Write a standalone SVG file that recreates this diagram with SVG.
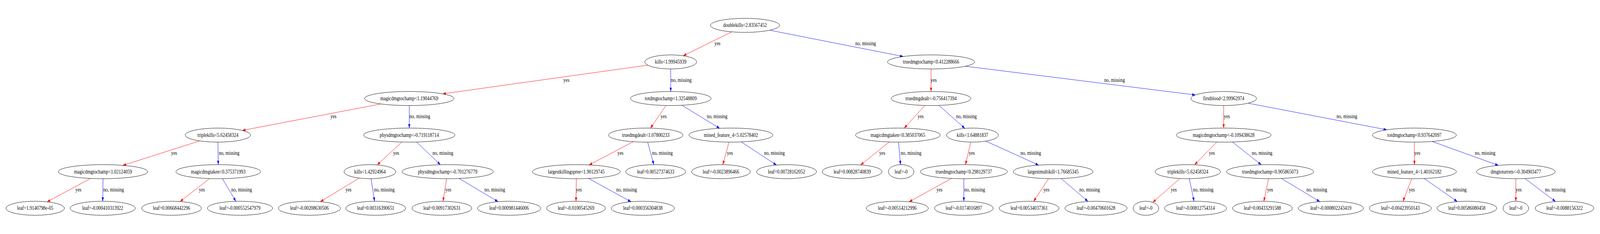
<svg xmlns="http://www.w3.org/2000/svg" width="5000" height="600" viewBox="0 0 5000 600" preserveAspectRatio="none">
<style>
svg:root{width:100vw;height:100vh;display:block}
.n ellipse{fill:none;stroke:#000;stroke-width:1}
.n text,.lb text{font-family:"Liberation Serif","Times New Roman",serif;font-size:14px;text-anchor:middle;fill:#000}
.y{stroke:#FF0000;stroke-width:1;fill:none;marker-end:url(#ar)}
.o{stroke:#0000FF;stroke-width:1;fill:none;marker-end:url(#ab)}
</style>
<defs>
<marker id="ar" markerUnits="userSpaceOnUse" markerWidth="10" markerHeight="7" refX="10" refY="3.5" orient="auto"><path d="M0,0L10,3.5L0,7z" fill="#FF0000"/></marker>
<marker id="ab" markerUnits="userSpaceOnUse" markerWidth="10" markerHeight="7" refX="10" refY="3.5" orient="auto"><path d="M0,0L10,3.5L0,7z" fill="#0000FF"/></marker>
</defs>
<rect width="5000" height="600" fill="#fff"/>
<g id="connectors">
<line class="y" x1="2286.8" y1="81.6" x2="2135" y2="143"/>
<line class="o" x1="2405.5" y1="77.5" x2="2822.8" y2="144.9"/>
<line class="y" x1="2024" y1="167.1" x2="1383.3" y2="240.6"/>
<line class="o" x1="2096" y1="176.8" x2="2096" y2="234.6"/>
<line class="y" x1="1190.3" y1="266.5" x2="757.2" y2="334.4"/>
<line class="o" x1="1279" y1="270.6" x2="1279" y2="328.4"/>
<line class="y" x1="623.9" y1="361.3" x2="383.8" y2="424.1"/>
<line class="o" x1="681" y1="364.4" x2="682" y2="422.2"/>
<line class="y" x1="282.9" y1="457.5" x2="147.2" y2="517.6"/>
<line class="o" x1="322" y1="458.2" x2="321" y2="516"/>
<line class="y" x1="654.6" y1="457.8" x2="562.8" y2="516.8"/>
<line class="o" x1="695" y1="458.1" x2="737.1" y2="516.1"/>
<line class="y" x1="1255.7" y1="364.2" x2="1178.7" y2="422.9"/>
<line class="o" x1="1301.7" y1="364.2" x2="1376.3" y2="422.4"/>
<line class="y" x1="1122.9" y1="456.6" x2="1001" y2="517.1"/>
<line class="o" x1="1159.5" y1="458.2" x2="1170.5" y2="516"/>
<line class="y" x1="1395.5" y1="458.2" x2="1384.5" y2="516"/>
<line class="o" x1="1434.7" y1="457.6" x2="1556.5" y2="517.1"/>
<line class="y" x1="2081.1" y1="270.5" x2="2032.8" y2="328.6"/>
<line class="o" x1="2130.7" y1="269.9" x2="2249.2" y2="329.1"/>
<line class="y" x1="1978.8" y1="363.3" x2="1840.8" y2="423"/>
<line class="o" x1="2023.9" y1="364.4" x2="2043.1" y2="422.2"/>
<line class="y" x1="2278.1" y1="364.4" x2="2258.9" y2="422.2"/>
<line class="o" x1="2316.4" y1="363.8" x2="2426.6" y2="423.3"/>
<line class="y" x1="1801" y1="458.2" x2="1800" y2="516"/>
<line class="o" x1="1839.3" y1="457.5" x2="1972" y2="517.3"/>
<line class="y" x1="2909.5" y1="176.8" x2="2909.5" y2="234.6"/>
<line class="o" x1="3016.5" y1="169.8" x2="3735.5" y2="243.5"/>
<line class="y" x1="2890.3" y1="270.4" x2="2825.7" y2="328.6"/>
<line class="o" x1="2934.3" y1="270.3" x2="3015.3" y2="329.2"/>
<line class="y" x1="2779.1" y1="364" x2="2689.3" y2="422.9"/>
<line class="o" x1="2807.9" y1="364.4" x2="2814.1" y2="422.2"/>
<line class="y" x1="3033.8" y1="364.4" x2="3017.2" y2="422.2"/>
<line class="o" x1="3080.5" y1="361.9" x2="3245.9" y2="423.4"/>
<line class="y" x1="2973.7" y1="457.5" x2="2840.9" y2="517.4"/>
<line class="o" x1="3012" y1="458.2" x2="3012" y2="516"/>
<line class="y" x1="3276.7" y1="458.1" x2="3230.2" y2="516.2"/>
<line class="o" x1="3316.2" y1="457.8" x2="3400.1" y2="516.6"/>
<line class="y" x1="3824" y1="270.6" x2="3824" y2="328.4"/>
<line class="o" x1="3900.3" y1="264.6" x2="4333.8" y2="332.8"/>
<line class="y" x1="3802.7" y1="364.2" x2="3733" y2="422.6"/>
<line class="o" x1="3851.3" y1="364.1" x2="3941.7" y2="422.6"/>
<line class="y" x1="4420" y1="364.4" x2="4420" y2="422.2"/>
<line class="o" x1="4475.2" y1="362.7" x2="4682.5" y2="424.1"/>
<line class="y" x1="3687.6" y1="457.7" x2="3602.3" y2="518.8"/>
<line class="o" x1="3716.6" y1="458.2" x2="3731.4" y2="516"/>
<line class="y" x1="3964.4" y1="458.2" x2="3949.6" y2="516"/>
<line class="o" x1="4004.2" y1="457.6" x2="4124.7" y2="517.1"/>
<line class="y" x1="4411.6" y1="458.2" x2="4384.4" y2="516.1"/>
<line class="o" x1="4450.6" y1="457.7" x2="4554.2" y2="516.9"/>
<line class="y" x1="4737" y1="458.2" x2="4737" y2="516"/>
<line class="o" x1="4765.4" y1="457.7" x2="4861.2" y2="516.8"/>
<g class="lb">
<text x="2242" y="115.9">yes</text>
<text x="2705" y="115.9">no, missing</text>
<text x="1770" y="209.7">yes</text>
<text x="2129" y="209.7">no, missing</text>
<text x="2918" y="209.7">yes</text>
<text x="3483" y="209.7">no, missing</text>
<text x="1042" y="303.5">yes</text>
<text x="1312" y="303.5">no, missing</text>
<text x="2074" y="303.5">yes</text>
<text x="2241" y="303.5">no, missing</text>
<text x="2877" y="303.5">yes</text>
<text x="3020" y="303.5">no, missing</text>
<text x="3834" y="303.5">yes</text>
<text x="4209" y="303.5">no, missing</text>
<text x="544" y="397.3">yes</text>
<text x="716" y="397.3">no, missing</text>
<text x="1238" y="397.3">yes</text>
<text x="1384" y="397.3">no, missing</text>
<text x="1939" y="397.3">yes</text>
<text x="2070" y="397.3">no, missing</text>
<text x="2281" y="397.3">yes</text>
<text x="2420" y="397.3">no, missing</text>
<text x="2757" y="397.3">yes</text>
<text x="2847" y="397.3">no, missing</text>
<text x="3037" y="397.3">yes</text>
<text x="3221" y="397.3">no, missing</text>
<text x="3787" y="397.3">yes</text>
<text x="3944" y="397.3">no, missing</text>
<text x="4429" y="397.3">yes</text>
<text x="4641" y="397.3">no, missing</text>
<text x="245" y="491.1">yes</text>
<text x="355" y="491.1">no, missing</text>
<text x="631" y="491.1">yes</text>
<text x="755" y="491.1">no, missing</text>
<text x="1089" y="491.1">yes</text>
<text x="1201" y="491.1">no, missing</text>
<text x="1401" y="491.1">yes</text>
<text x="1546" y="491.1">no, missing</text>
<text x="1809" y="491.1">yes</text>
<text x="1958" y="491.1">no, missing</text>
<text x="2936" y="491.1">yes</text>
<text x="3046" y="491.1">no, missing</text>
<text x="3270" y="491.1">yes</text>
<text x="3405" y="491.1">no, missing</text>
<text x="3668" y="491.1">yes</text>
<text x="3760" y="491.1">no, missing</text>
<text x="3969" y="491.1">yes</text>
<text x="4115" y="491.1">no, missing</text>
<text x="4412" y="491.1">yes</text>
<text x="4551" y="491.1">no, missing</text>
<text x="4746" y="491.1">yes</text>
<text x="4860" y="491.1">no, missing</text>
</g>
</g>
<g id="n0" class="n"><ellipse cx="2328" cy="65" rx="107.9" ry="18"/><text x="2328" y="69.5">doublekills&lt;2.83567452</text></g>
<g id="n1" class="n"><ellipse cx="2096" cy="158.8" rx="81" ry="18"/><text x="2096" y="163.3">kills&lt;1.99945939</text></g>
<g id="n2" class="n"><ellipse cx="2909.5" cy="158.8" rx="135.9" ry="18"/><text x="2909.5" y="163.3">truedmgtochamp&lt;0.412288666</text></g>
<g id="n3" class="n"><ellipse cx="1279" cy="252.6" rx="139.8" ry="18"/><text x="1279" y="257.1">magicdmgtochamp&lt;1.19044769</text></g>
<g id="n4" class="n"><ellipse cx="2096" cy="252.6" rx="126.1" ry="18"/><text x="2096" y="257.1">totdmgtochamp&lt;1.32548809</text></g>
<g id="n5" class="n"><ellipse cx="2909.5" cy="252.6" rx="124.4" ry="18"/><text x="2909.5" y="257.1">truedmgdealt&lt;-0.756417394</text></g>
<g id="n6" class="n"><ellipse cx="3824" cy="252.6" rx="102.4" ry="18"/><text x="3824" y="257.1">firstblood&lt;2.99962974</text></g>
<g id="n7" class="n"><ellipse cx="681" cy="346.4" rx="101.9" ry="18"/><text x="681" y="350.9">triplekills&lt;5.62458324</text></g>
<g id="n8" class="n"><ellipse cx="1279" cy="346.4" rx="142.6" ry="18"/><text x="1279" y="350.9">physdmgtochamp&lt;-0.719118714</text></g>
<g id="n9" class="n"><ellipse cx="2018" cy="346.4" rx="116.1" ry="18"/><text x="2018" y="350.9">truedmgdealt&lt;1.07800233</text></g>
<g id="n10" class="n"><ellipse cx="2284" cy="346.4" rx="131" ry="18"/><text x="2284" y="350.9">mined_feature_4&lt;5.02578402</text></g>
<g id="n11" class="n"><ellipse cx="2806" cy="346.4" rx="132.2" ry="18"/><text x="2806" y="350.9">magicdmgtaken&lt;0.385037065</text></g>
<g id="n12" class="n"><ellipse cx="3039" cy="346.4" rx="81" ry="18"/><text x="3039" y="350.9">kills&lt;1.64881837</text></g>
<g id="n13" class="n"><ellipse cx="3824" cy="346.4" rx="148" ry="18"/><text x="3824" y="350.9">magicdmgtochamp&lt;-0.109438628</text></g>
<g id="n14" class="n"><ellipse cx="4420" cy="346.4" rx="131" ry="18"/><text x="4420" y="350.9">totdmgtochamp&lt;0.937642097</text></g>
<g id="n15" class="n"><ellipse cx="322" cy="440.2" rx="139.8" ry="18"/><text x="322" y="444.7">magicdmgtochamp&lt;1.02124059</text></g>
<g id="n16" class="n"><ellipse cx="682" cy="440.2" rx="132.2" ry="18"/><text x="682" y="444.7">magicdmgtaken&lt;0.375371993</text></g>
<g id="n17" class="n"><ellipse cx="1156" cy="440.2" rx="81" ry="18"/><text x="1156" y="444.7">kills&lt;1.42924964</text></g>
<g id="n18" class="n"><ellipse cx="1399" cy="440.2" rx="142.6" ry="18"/><text x="1399" y="444.7">physdmgtochamp&lt;-0.701276779</text></g>
<g id="n19" class="n"><ellipse cx="1801" cy="440.2" rx="137.1" ry="18"/><text x="1801" y="444.7">largestkillingspree&lt;1.90129745</text></g>
<g id="n20" class="n"><ellipse cx="2049" cy="440.2" rx="93.6" ry="18"/><text x="2049" y="444.7">leaf=0.00527374633</text></g>
<g id="n21" class="n"><ellipse cx="2253" cy="440.2" rx="91.9" ry="18"/><text x="2253" y="444.7">leaf=-0.0023896466</text></g>
<g id="n22" class="n"><ellipse cx="2458" cy="440.2" rx="93.6" ry="18"/><text x="2458" y="444.7">leaf=0.00728162052</text></g>
<g id="n23" class="n"><ellipse cx="2663" cy="440.2" rx="93.6" ry="18"/><text x="2663" y="444.7">leaf=0.00828740839</text></g>
<g id="n24" class="n"><ellipse cx="2816" cy="440.2" rx="40" ry="18"/><text x="2816" y="444.7">leaf=-0</text></g>
<g id="n25" class="n"><ellipse cx="3012" cy="440.2" rx="135.9" ry="18"/><text x="3012" y="444.7">truedmgtochamp&lt;0.298129737</text></g>
<g id="n26" class="n"><ellipse cx="3291" cy="440.2" rx="124.4" ry="18"/><text x="3291" y="444.7">largestmultikill&lt;1.76685345</text></g>
<g id="n27" class="n"><ellipse cx="3712" cy="440.2" rx="101.9" ry="18"/><text x="3712" y="444.7">triplekills&lt;5.62458324</text></g>
<g id="n28" class="n"><ellipse cx="3969" cy="440.2" rx="135.9" ry="18"/><text x="3969" y="444.7">truedmgtochamp&lt;0.905865073</text></g>
<g id="n29" class="n"><ellipse cx="4420" cy="440.2" rx="131" ry="18"/><text x="4420" y="444.7">mined_feature_4&lt;1.40162182</text></g>
<g id="n30" class="n"><ellipse cx="4737" cy="440.2" rx="122.8" ry="18"/><text x="4737" y="444.7">dmgtoturrets&lt;-0.304903477</text></g>
<g id="n31" class="n"><ellipse cx="110" cy="534" rx="91.4" ry="18"/><text x="110" y="538.5">leaf=1.9140798e-05</text></g>
<g id="n32" class="n"><ellipse cx="321" cy="534" rx="101.8" ry="18"/><text x="321" y="538.5">leaf=-0.000410313922</text></g>
<g id="n33" class="n"><ellipse cx="536" cy="534" rx="93.6" ry="18"/><text x="536" y="538.5">leaf=0.00668442296</text></g>
<g id="n34" class="n"><ellipse cx="750" cy="534" rx="101.8" ry="18"/><text x="750" y="538.5">leaf=-0.000552547979</text></g>
<g id="n35" class="n"><ellipse cx="967" cy="534" rx="96.9" ry="18"/><text x="967" y="538.5">leaf=-0.00208630506</text></g>
<g id="n36" class="n"><ellipse cx="1174" cy="534" rx="93.6" ry="18"/><text x="1174" y="538.5">leaf=0.00316390651</text></g>
<g id="n37" class="n"><ellipse cx="1381" cy="534" rx="93.6" ry="18"/><text x="1381" y="538.5">leaf=0.00917302631</text></g>
<g id="n38" class="n"><ellipse cx="1591" cy="534" rx="98.6" ry="18"/><text x="1591" y="538.5">leaf=0.000981446006</text></g>
<g id="n39" class="n"><ellipse cx="1800" cy="534" rx="91.9" ry="18"/><text x="1800" y="538.5">leaf=-0.0100545269</text></g>
<g id="n40" class="n"><ellipse cx="2009" cy="534" rx="98.6" ry="18"/><text x="2009" y="538.5">leaf=0.000356304838</text></g>
<g id="n41" class="n"><ellipse cx="2804" cy="534" rx="96.9" ry="18"/><text x="2804" y="538.5">leaf=-0.00514212996</text></g>
<g id="n42" class="n"><ellipse cx="3012" cy="534" rx="91.9" ry="18"/><text x="3012" y="538.5">leaf=-0.0174016897</text></g>
<g id="n43" class="n"><ellipse cx="3216" cy="534" rx="93.6" ry="18"/><text x="3216" y="538.5">leaf=0.00534037361</text></g>
<g id="n44" class="n"><ellipse cx="3425" cy="534" rx="96.9" ry="18"/><text x="3425" y="538.5">leaf=-0.00470601628</text></g>
<g id="n45" class="n"><ellipse cx="3581" cy="534" rx="40" ry="18"/><text x="3581" y="538.5">leaf=-0</text></g>
<g id="n46" class="n"><ellipse cx="3736" cy="534" rx="96.9" ry="18"/><text x="3736" y="538.5">leaf=-0.00812754314</text></g>
<g id="n47" class="n"><ellipse cx="3945" cy="534" rx="93.6" ry="18"/><text x="3945" y="538.5">leaf=0.00433291588</text></g>
<g id="n48" class="n"><ellipse cx="4159" cy="534" rx="101.8" ry="18"/><text x="4159" y="538.5">leaf=-0.000802243419</text></g>
<g id="n49" class="n"><ellipse cx="4376" cy="534" rx="96.9" ry="18"/><text x="4376" y="538.5">leaf=-0.00423950143</text></g>
<g id="n50" class="n"><ellipse cx="4584" cy="534" rx="93.6" ry="18"/><text x="4584" y="538.5">leaf=0.00586080458</text></g>
<g id="n51" class="n"><ellipse cx="4737" cy="534" rx="40" ry="18"/><text x="4737" y="538.5">leaf=-0</text></g>
<g id="n52" class="n"><ellipse cx="4889" cy="534" rx="91.9" ry="18"/><text x="4889" y="538.5">leaf=-0.0088156322</text></g>
</svg>
